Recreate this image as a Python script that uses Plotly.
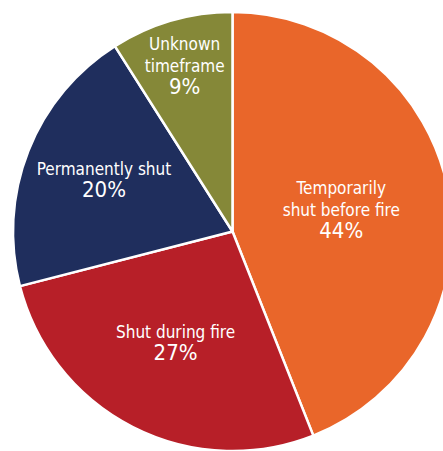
import plotly.graph_objects as go

labels = ["Temporarily<br>shut before fire", "Shut during fire", "Permanently shut", "Unknown<br>timeframe"]
values = [44, 27, 20, 9]
colors = ["#E9662A", "#B71F28", "#1F2E5D", "#858838"]

W, H = 470, 451
fig = go.Figure(go.Pie(
    labels=labels,
    values=values,
    sort=False,
    direction="clockwise",
    rotation=0,
    marker=dict(colors=colors, line=dict(color="white", width=2.5)),
    texttemplate="%{label}<br><span style='font-size:22px'>%{percent:.0%}</span>",
    textposition="inside",
    insidetextorientation="horizontal",
    textfont=dict(family="DejaVu Sans Condensed, Liberation Sans Narrow, Roboto", size=17, color="white"),
    hoverinfo="skip",
    showlegend=False,
    domain=dict(x=[12.5 / W, 452.5 / W], y=[0, 439 / H]),
))
fig.update_layout(
    width=W, height=H,
    margin=dict(l=0, r=0, t=0, b=0),
    paper_bgcolor="white",
    plot_bgcolor="white",
    uniformtext=dict(minsize=17, mode="show"),
)
fig.write_html(
    "out.html",
    post_script="document.documentElement.style.overflow='hidden';document.body.style.overflow='hidden';document.body.style.margin='0';",
)
